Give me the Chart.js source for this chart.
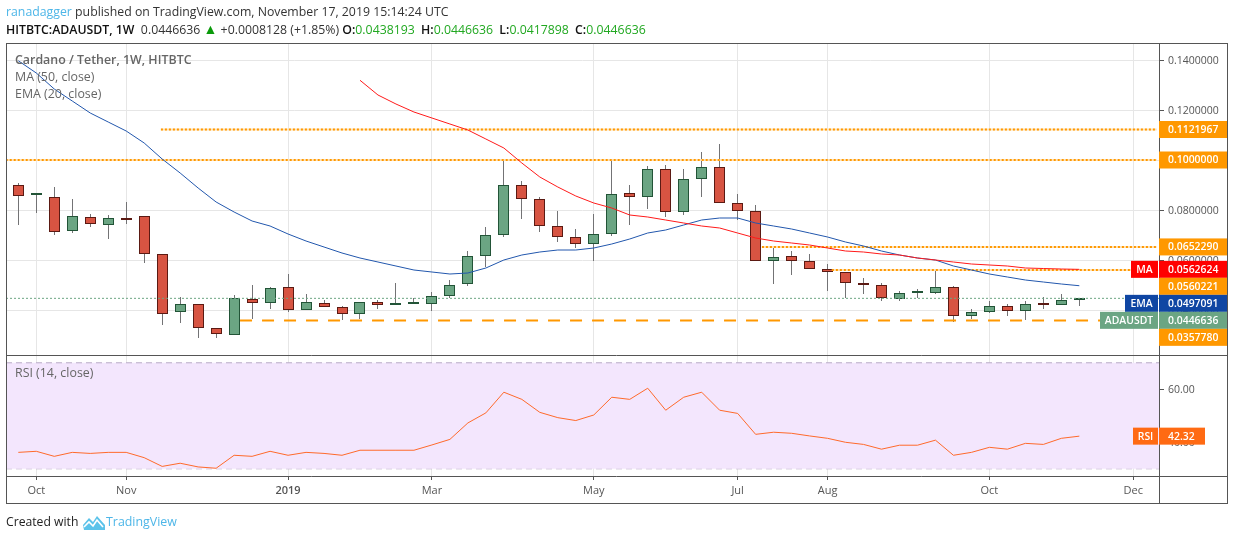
<!DOCTYPE html>
<html>
<head>
<meta charset="utf-8">
<title>ADAUSDT</title>
<script src="https://cdn.jsdelivr.net/npm/chart.js@4"></script>
<style>
    html, body { margin: 0; padding: 0; background: #fff; }
    body { width: 1234px; height: 540px; position: relative; overflow: hidden; font-family: "Open Sans", sans-serif; }
    canvas { position: absolute; left: 0; top: 0; display: block; }
    .txt { position: absolute; white-space: nowrap; line-height: 16px; }
    .hd { font-size: 12.3px; color: #333; }
    .hd b { font-weight: 600; color: #111; }
    .hd b.gap { margin-left: 3px; }
    .pane { font-size: 12.4px; color: #666; }
    .up { color: #21a821; }
    .blue { color: #4db6e8; }
</style>
</head>
<body>
<canvas id="chart" width="1234" height="540"></canvas>

<div class="txt hd" style="left:6px;top:4px"><span class="blue">ranadagger</span> published on TradingView.com, November 17, 2019 15:14:24 UTC</div>
<div class="txt hd" style="left:6px;top:21px"><b>HITBTC:ADAUSDT, 1W</b>&nbsp; 0.0446636 <span style="color:#0a9a0a;font-size:14px">▲</span> +0.0008128 (+1.85%) <b>O:</b><span class="up">0.0438193</span> <b class="gap">H:</b><span class="up">0.0446636</span> <b class="gap">L:</b><span class="up">0.0417898</span> <b class="gap">C:</b><span class="up">0.0446636</span></div>

<div class="txt pane" style="left:15px;top:52px;font-weight:600">Cardano / Tether, 1W, HITBTC</div>
<div class="txt pane" style="left:15px;top:69px">MA (50, close)</div>
<div class="txt pane" style="left:15px;top:86px">EMA (20, close)</div>
<div class="txt pane" style="left:15px;top:365px">RSI (14, close)</div>

<div class="txt" style="left:6px;top:514px;font-size:12.2px;color:#222">Created with</div>
<svg style="position:absolute;left:82px;top:514px" width="24" height="17" viewBox="0 0 24 17">
    <path d="M1 11 L7 4 L11 8 L15 2 L23 11 L23 16 L2 16 Z" fill="#5cc3ea"/>
    <path d="M2 13 L7 8 L11 12 L15 6 L21 13" fill="none" stroke="#fff" stroke-width="1.6"/>
</svg>
<div class="txt blue" style="left:106px;top:514px;font-size:12.4px">TradingView</div>

<script>
// --- data ---
const opens = [
    .0899, .0859, .0851, .0715, .0771, .0739, .0767, .0775, .0623, .0391,
    .0423, .0327, .0299, .0443, .0427, .0491, .0399, .0427, .0411, .0383,
    .0431, .0419, .0423, .0423, .0455, .0503, .0615, .0699, .0899, .0843,
    .0735, .0691, .0663, .0703, .0867, .0851, .0963, .0791, .0923, .0971,
    .0827, .0795, .0595, .0615, .0595, .0563, .0551, .0507, .0499, .0443,
    .0467, .0467, .0491, .0375, .0391, .0415, .0395, .0421, .0419, .0438193
];
const highs = [
    .0907, .0859, .0891, .0844, .0784, .0779, .0832, .0775, .0623, .0452,
    .0423, .0327, .0459, .05, .0491, .0544, .0463, .044, .0415, .0431,
    .044, .0507, .0447, .0471, .0519, .0635, .0731, .0999, .0915, .0851,
    .0795, .0723, .0783, .1003, .0899, .0975, .0979, .0963, .1031, .1063,
    .0863, .0819, .0655, .0635, .0623, .0583, .0551, .0527, .0507, .0475,
    .0483, .0557, .0495, .0403, .0436, .0423, .0436, .0451, .0463, .0446636
];
const lows = [
    .0741, .0789, .0701, .0709, .0733, .0685, .0745, .0589, .0341, .0349,
    .0289, .0289, .0299, .0365, .0405, .0393, .0399, .0411, .036, .0365,
    .0405, .0419, .0423, .0397, .0447, .0497, .0572, .0693, .0765, .0713,
    .0673, .0649, .0597, .0696, .074, .0804, .0772, .0781, .0853, .0827,
    .076, .0595, .0505, .0541, .0563, .0477, .0447, .0465, .0437, .0437,
    .0447, .0463, .0353, .0365, .0387, .0376, .0359, .0404, .0419, .0417898
];
const closes = [
    .0855, .0859, .0711, .0775, .0743, .0767, .0759, .0623, .0383, .0423,
    .0327, .0303, .0447, .0427, .0487, .0399, .0431, .0411, .0383, .0431,
    .0419, .0419, .0423, .0455, .0499, .0615, .0699, .0899, .0843, .0735,
    .0691, .0663, .0703, .0863, .0851, .0963, .0791, .0923, .0971, .0827,
    .0795, .0595, .0611, .0595, .0563, .0551, .0507, .0499, .0447, .0467,
    .0467, .0491, .0375, .0391, .0415, .0395, .0423, .0419, .0439, .0446636
];
const emaValues = [
    .1397, .1348, .1284, .1236, .1188, .1152, .1116, .1068, .1004, .0948,
    .0888, .0832, .0792, .0756, .0736, .0704, .0676, .0652, .0628, .0608,
    .0592, .0576, .056, .0552, .0544, .0548, .0568, .06, .062, .0632,
    .064, .064, .0648, .0664, .0684, .0708, .072, .074, .076, .0768,
    .0768, .0748, .0736, .0724, .0708, .0692, .0672, .0656, .0636, .062,
    .0608, .06, .0576, .056, .0544, .0532, .052, .0512, .0504, .0497091
];
const maFirstWeek = 19;
const maValues = [
    .1319, .126, .1224, .1192, .1168, .1144, .112, .1084, .1048, .0988,
    .0932, .0892, .0856, .0828, .0808, .078, .0772, .076, .0748, .0736,
    .0728, .0708, .0688, .0676, .0668, .066, .0648, .0636, .0632, .0624,
    .062, .0608, .06, .0592, .0584, .058, .0576, .0568, .0566, .0564, .0562624
];
const rsiValues = [
    36.2, 36.6, 34.7, 36.2, 35.8, 36.2, 36.2, 34.2, 30.9, 32.1,
    30.7, 30.2, 35.1, 34.7, 36.6, 35.1, 36.2, 35.8, 35.1, 37.0,
    37.0, 37.0, 37.0, 39.0, 41.1, 47.3, 51.1, 58.9, 56.2, 51.3,
    49.3, 48.2, 50.3, 57.0, 56.2, 60.4, 52.1, 57.0, 58.9, 52.1,
    50.9, 43.0, 43.8, 43.4, 42.4, 41.5, 40.0, 39.2, 37.4, 38.9,
    38.9, 40.8, 35.1, 36.2, 38.1, 37.4, 39.6, 39.2, 41.5, 42.32
];

const dottedLevels = [0.1121967, 0.1, 0.065229, 0.0560221];
const dottedStarts = [7.93, -0.7, 41.35, 45.24];
const dashedLevel = 0.035778;
const dashedStart = 12.33;
const lastPrice = 0.0446636;
const rsiBands = [70, 30];

const priceTicks = [0.14, 0.12, 0.1, 0.08, 0.06, 0.04];
const rsiTicks = [60, 40];
const timeTickWeeks = [1, 6, 15, 23, 32, 40, 45, 54, 62];
const timeTickLabels = ['Oct', 'Nov', '2019', 'Mar', 'May', 'Jul', 'Aug', 'Oct', 'Dec'];

const FONT = '"Open Sans", sans-serif';
const GRID = '#e6e6e6';
const FRAME = '#555555';
const ORANGE = '#ff9800';
const PALE_ORANGE = '#ffe3b8';
const UP = '#6ba583', DOWN = '#d75442', UP_EDGE = '#225437', DOWN_EDGE = '#5b1a13';

const xMin = -0.684, xMax = 63.43;
const levelEnd = 63.3;

const weeks = opens.map((_, i) => i);
const isUp = weeks.map(i => closes[i] >= opens[i]);

function flatLine(value, from, to, color, width, dash, order) {
    return {
        type: 'line', xAxisID: 'x', yAxisID: 'y', order: order,
        data: [{x: from, y: value}, {x: to, y: value}],
        borderColor: color, borderWidth: width, borderDash: dash,
        pointRadius: 0
    };
}

// les étiquettes de droite, empilées quand elles se touchent
const priceTags = [
    {value: 0.1121967, text: '0.1121967', color: ORANGE},
    {value: 0.1, text: '0.1000000', color: ORANGE},
    {value: 0.065229, text: '0.0652290', color: ORANGE},
    {value: 0.0562624, text: '0.0562624', color: '#ff0000', name: 'MA'},
    {value: 0.0560221, text: '0.0560221', color: ORANGE},
    {value: 0.0497091, text: '0.0497091', color: '#0f46a3', name: 'EMA'},
    {value: 0.0446636, text: '0.0446636', color: UP, name: 'ADAUSDT'},
    {value: 0.035778, text: '0.0357780', color: ORANGE}
];
const rsiTag = {value: 42.32, text: '42.32', color: '#ff6a13', name: 'RSI'};

function drawTag(ctx, tag, y, axisX, boxRight, nameWidth) {
    const h = 17;
    ctx.fillStyle = tag.color;
    ctx.fillRect(axisX, y - h / 2, boxRight - axisX, h);
    ctx.fillStyle = '#fff';
    ctx.font = '600 10.4px ' + FONT;
    ctx.textBaseline = 'middle';
    ctx.textAlign = 'left';
    ctx.fillText(tag.text, axisX + 9, y + 0.5);
    if (tag.name) {
        ctx.fillStyle = tag.color;
        ctx.fillRect(axisX - 1 - nameWidth, y - h / 2, nameWidth, h);
        ctx.fillStyle = '#fff';
        ctx.textAlign = 'center';
        ctx.fillText(tag.name, axisX - 1 - nameWidth / 2, y + 0.5);
    }
}

const panePlugin = {
    id: 'panePlugin',
    // on cale les bougies sur les pixels, comme sur l'original
    beforeDatasetsDraw(chart) {
        chart.data.datasets.forEach((ds, i) => {
            if (ds.type !== 'bar') return;
            chart.getDatasetMeta(i).data.forEach(el => {
                el.x = Math.floor(el.x) + 0.5;
                el.y = Math.round(el.y);
                el.base = Math.round(el.base);
                el.height = el.base - el.y;
            });
        });
    },
    afterDraw(chart) {
        const ctx = chart.ctx;
        const yMain = chart.scales.y, yRsi = chart.scales.yRsi;
        const area = chart.chartArea;
        const right = chart.width - 7;

        ctx.save();
        ctx.strokeStyle = FRAME;
        ctx.lineWidth = 1;
        ctx.strokeRect(6.5, 43.5, right - 6, 503 - 43);
        ctx.beginPath();
        ctx.moveTo(6, 355.5); ctx.lineTo(right, 355.5);
        ctx.moveTo(6, 476.5); ctx.lineTo(right, 476.5);
        ctx.moveTo(area.right + 0.5, 43); ctx.lineTo(area.right + 0.5, 503);
        ctx.stroke();

        const nameWidths = {MA: 27, EMA: 33, ADAUSDT: 58, RSI: 25};
        let prev = -Infinity;
        priceTags.forEach(tag => {
            const y = Math.max(yMain.getPixelForValue(tag.value), prev + 17);
            drawTag(ctx, tag, y, area.right, right, nameWidths[tag.name]);
            prev = y;
        });
        drawTag(ctx, rsiTag, yRsi.getPixelForValue(rsiTag.value), area.right, 1205, nameWidths.RSI);
        ctx.restore();
    }
};

new Chart(document.getElementById('chart'), {
    plugins: [panePlugin],
    data: {
        datasets: [
            {
                type: 'bar', xAxisID: 'x', yAxisID: 'y', order: 6, grouped: false,
                data: weeks.map(i => ({x: i, y: [lows[i], highs[i]]})),
                backgroundColor: '#737375', borderWidth: 0, barThickness: 1, inflateAmount: 0
            },
            {
                type: 'bar', xAxisID: 'x', yAxisID: 'y', order: 5, grouped: false,
                data: weeks.map(i => ({x: i, y: [opens[i], closes[i]]})),
                backgroundColor: weeks.map(i => isUp[i] ? UP : DOWN),
                borderColor: weeks.map(i => isUp[i] ? UP_EDGE : DOWN_EDGE),
                borderWidth: 1, borderSkipped: false, barThickness: 11, minBarLength: 2, inflateAmount: 0
            },
            flatLine(lastPrice, xMin, xMax, UP, 1, [2, 2], 4),
            ...dottedLevels.map((v, k) => flatLine(v, dottedStarts[k], levelEnd, PALE_ORANGE, 2, [], 3.5)),
            ...dottedLevels.map((v, k) => flatLine(v, dottedStarts[k], levelEnd, ORANGE, 2, [2, 2], 3)),
            flatLine(dashedLevel, dashedStart, levelEnd, ORANGE, 2, [12, 10], 3),
            {
                type: 'line', xAxisID: 'x', yAxisID: 'y', order: 2,
                data: weeks.map(i => ({x: i, y: emaValues[i]})),
                borderColor: '#2257ad', borderWidth: 1, pointRadius: 0
            },
            {
                type: 'line', xAxisID: 'x', yAxisID: 'y', order: 1,
                data: maValues.map((v, k) => ({x: maFirstWeek + k, y: v})),
                borderColor: '#ff1a1a', borderWidth: 1, pointRadius: 0
            },
            {
                type: 'line', xAxisID: 'x', yAxisID: 'yRsi', order: 8, fill: '+1',
                data: [{x: xMin, y: rsiBands[0]}, {x: xMax, y: rsiBands[0]}],
                backgroundColor: '#f3e6fd', borderColor: '#b8aac6', borderWidth: 1, borderDash: [6, 4], pointRadius: 0
            },
            {
                type: 'line', xAxisID: 'x', yAxisID: 'yRsi', order: 9,
                data: [{x: xMin, y: rsiBands[1]}, {x: xMax, y: rsiBands[1]}],
                borderColor: '#b8aac6', borderWidth: 1, borderDash: [6, 4], pointRadius: 0
            },
            {
                type: 'line', xAxisID: 'x', yAxisID: 'yRsi', order: 1,
                data: weeks.map(i => ({x: i, y: rsiValues[i]})),
                borderColor: '#ff6a2b', borderWidth: 1, pointRadius: 0
            }
        ]
    },
    options: {
        responsive: false,
        devicePixelRatio: 1,
        animation: false,
        events: [],
        layout: { padding: { left: 6, top: 43, right: 7, bottom: 37 } },
        plugins: { legend: { display: false }, tooltip: { enabled: false } },
        scales: {
            x: {
                type: 'linear', min: xMin, max: xMax, offset: false,
                afterBuildTicks: s => { s.ticks = timeTickWeeks.map(v => ({value: v})); },
                afterFit: s => { s.height = 27; },
                grid: { color: GRID, tickLength: 4, tickColor: FRAME, offset: false },
                border: { display: false },
                ticks: {
                    autoSkip: false, maxRotation: 0, padding: 4, color: '#555',
                    font: ctx => ({family: FONT, size: 11, weight: ctx.index === 2 ? '600' : '400'}),
                    callback: (v, i) => timeTickLabels[i]
                }
            },
            y: {
                position: 'right', stack: 'panes', stackWeight: 312,
                min: 0.022, max: 0.1468,
                afterBuildTicks: s => { s.ticks = priceTicks.map(v => ({value: v})); },
                afterFit: s => { s.width = 68; },
                grid: { color: GRID, tickLength: 5, tickColor: FRAME },
                border: { display: false },
                ticks: {
                    padding: 4, labelOffset: 1, color: '#555', font: {family: FONT, size: 10.5},
                    callback: v => v.toFixed(7)
                }
            },
            yRsi: {
                position: 'right', stack: 'panes', stackWeight: 121,
                min: 27.28, max: 72.94,
                afterBuildTicks: s => { s.ticks = rsiTicks.map(v => ({value: v})); },
                afterFit: s => { s.width = 68; },
                grid: { color: '#e2d6ee', tickLength: 5, tickColor: FRAME },
                border: { display: false },
                ticks: {
                    padding: 4, labelOffset: 1, color: '#555', font: {family: FONT, size: 10.5},
                    callback: v => v.toFixed(2)
                }
            }
        }
    }
});
</script>
</body>
</html>
